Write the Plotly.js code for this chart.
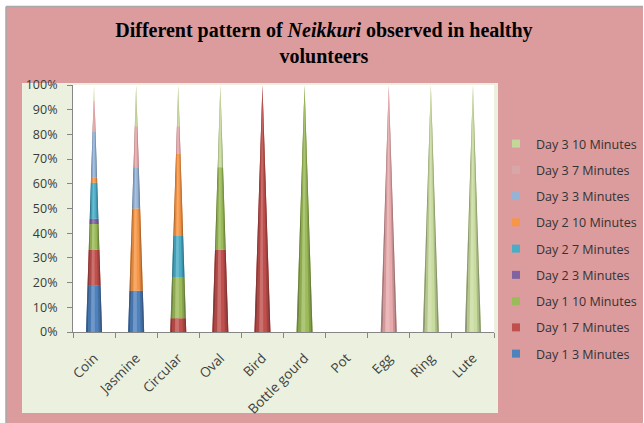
<!DOCTYPE html>
<html><head><meta charset="utf-8">
<script src="https://cdn.plot.ly/plotly-3.0.1.min.js"></script>
<style>html,body{margin:0;padding:0;background:#fff}#chart{width:644px;height:423px}</style>
</head><body><div id="chart"></div>
<script>
const categories = ['Coin','Jasmine','Circular','Oval','Bird','Bottle gourd','Pot','Egg','Ring','Lute'];
const seriesNames = ['Day 1 3 Minutes','Day 1 7 Minutes','Day 1 10 Minutes','Day 2 3 Minutes','Day 2 7 Minutes','Day 2 10 Minutes','Day 3 3 Minutes','Day 3 7 Minutes','Day 3 10 Minutes'];
const day1_3  = [9,1,0,0,0,0,0,0,0,0];
const day1_7  = [7,0,1,1,1,0,0,0,0,0];
const day1_10 = [5,0,3,1,0,1,0,0,0,0];
const day2_3  = [1,0,0,0,0,0,0,0,0,0];
const day2_7  = [7,0,3,0,0,0,0,0,0,0];
const day2_10 = [1,2,6,0,0,0,0,0,0,0];
const day3_3  = [9,1,0,0,0,0,0,0,0,0];
const day3_7  = [6,1,2,0,0,0,0,1,0,0];
const day3_10 = [3,1,3,1,0,0,0,0,1,1];
const seriesValues = [day1_3,day1_7,day1_10,day2_3,day2_7,day2_10,day3_3,day3_7,day3_10];
const colors = ['#4F81BD','#C0504D','#9BBB59','#8064A2','#4BACC6','#F79646','#95B3D7','#E8AAAC','#C9DC9F'];
const legendColors = ['#4F81BD','#C0504D','#9BBB59','#8064A2','#4BACC6','#F79646','#95B3D7','#D9A6A7','#C3D69B'];

function shade(hex, f){
  const n=parseInt(hex.slice(1),16); let r=n>>16,g=(n>>8)&255,b=n&255;
  if(f<0){r=r*(1+f);g=g*(1+f);b=b*(1+f);} else {r=r+(255-r)*f;g=g+(255-g)*f;b=b+(255-b)*f;}
  return 'rgb('+Math.round(r)+','+Math.round(g)+','+Math.round(b)+')';
}
const HW = 0.19;
const hw = y => HW*(1 - y/100);
const totals = categories.map((c,i)=>seriesValues.reduce((s,v)=>s+v[i],0));
const starts = seriesValues.map(()=>[]), ends = seriesValues.map(()=>[]);
categories.forEach((c,i)=>{
  let cum=0;
  seriesValues.forEach((v,s)=>{
    const p = totals[i]>0 ? v[i]/totals[i]*100 : 0;
    starts[s][i]=cum; ends[s][i]=cum+p; cum+=p;
  });
});
function poly(s, a, b){
  const xs=[], ys=[];
  categories.forEach((c,i)=>{
    const y0=starts[s][i], y1=ends[s][i];
    if(y1-y0<=1e-9) return;
    const l0=i-hw(y0)+2*hw(y0)*a, r0=i-hw(y0)+2*hw(y0)*b;
    const l1=i-hw(y1)+2*hw(y1)*a, r1=i-hw(y1)+2*hw(y1)*b;
    xs.push(l0,r0,r1,l1,l0,null); ys.push(y0,y0,y1,y1,y0,null);
  });
  return {xs,ys};
}
const strips = [[0,0.12,-0.3],[0.12,0.28,-0.1],[0.3,0.55,0.18],[0.78,0.9,-0.15],[0.9,1,-0.32]];
const traces=[];
seriesNames.forEach((name,s)=>{
  const p=poly(s,0,1);
  traces.push({type:'scatter',mode:'lines',x:p.xs,y:p.ys,fill:'toself',fillcolor:colors[s],
    line:{width:0,color:colors[s]},showlegend:false,hoverinfo:'skip'});
});
seriesNames.forEach((name,s)=>{
  strips.forEach(st=>{
    const p=poly(s,st[0],st[1]);
    traces.push({type:'scatter',mode:'lines',x:p.xs,y:p.ys,fill:'toself',fillcolor:shade(colors[s],st[2]),
      line:{width:0},showlegend:false,hoverinfo:'skip'});
  });
});
// legend entries, listed top-down from Day 3 10 Minutes
for(let s=seriesNames.length-1;s>=0;s--){
  traces.push({type:'scatter',mode:'markers',x:[null],y:[null],name:seriesNames[s],legendgroup:'g'+s,
    marker:{symbol:'square',size:8,color:legendColors[s]},hoverinfo:'skip'});
}
const L=73, T=85, W=421, H=247;
const px = x=>(x-L)/W, py = y=>(T+H-y)/H;
const layout = {
  width:644,height:423,
  margin:{l:L,r:644-L-W,t:T,b:423-T-H,autoexpand:false},
  paper_bgcolor:'#FFFFFF', plot_bgcolor:'rgba(0,0,0,0)',
  title:{text:'<b>Different pattern of <i>Neikkuri</i> observed in healthy<br>volunteers</b>',
    font:{family:'Liberation Serif',size:20,color:'#000'},x:0.503,xanchor:'center',yref:'container',y:1-36.5/423,yanchor:'middle'},
  showlegend:true,
  legend:{x:px(496),xanchor:'left',y:py(129),yanchor:'top',traceorder:'grouped',tracegroupgap:7,itemwidth:30,
    font:{family:'Open Sans',size:12.5,color:'#333'},bgcolor:'rgba(0,0,0,0)'},
  xaxis:{range:[-0.5,9.5],tickmode:'array',tickvals:categories.map((c,i)=>i),ticktext:categories,
    tickangle:-45,ticks:'',showgrid:false,zeroline:false,showline:true,linecolor:'#868686',linewidth:1,
    tickfont:{family:'Open Sans',size:13.5,color:'#404040'},ticklabelstandoff:12,automargin:false,
    minor:{tick0:-0.5,dtick:1,ticks:'outside',ticklen:5,tickcolor:'#868686',showgrid:false}},
  yaxis:{range:[0,100],dtick:10,ticksuffix:'%',ticks:'outside',ticklen:5,tickcolor:'#868686',
    showgrid:false,zeroline:false,showline:true,linecolor:'#868686',linewidth:1,automargin:false,
    tickfont:{family:'Open Sans',size:12.5,color:'#3A3A3A'},ticklabelstandoff:7},
  shapes:[
    {type:'rect',xref:'paper',yref:'paper',x0:px(6),x1:px(643),y0:py(424),y1:py(7),fillcolor:'#DC9C9E',line:{width:0},layer:'below'},
    {type:'line',xref:'paper',yref:'paper',x0:px(6),x1:px(643),y0:py(6.5),y1:py(6.5),line:{color:'#A8A8A8',width:1.5},layer:'below'},
    {type:'line',xref:'paper',yref:'paper',x0:px(6),x1:px(6),y0:py(6.5),y1:py(424),line:{color:'#A8A8A8',width:1.5},layer:'below'},
    {type:'rect',xref:'paper',yref:'paper',x0:px(22),x1:px(498),y0:py(413),y1:py(83),fillcolor:'#EBF1DE',line:{width:0},layer:'below'},
    {type:'rect',xref:'paper',yref:'paper',x0:0,x1:1,y0:0,y1:1,fillcolor:'#FFFFFF',line:{width:0},layer:'below'}
  ]
};
Plotly.newPlot('chart',traces,layout,{displayModeBar:false,staticPlot:true});
</script></body></html>
